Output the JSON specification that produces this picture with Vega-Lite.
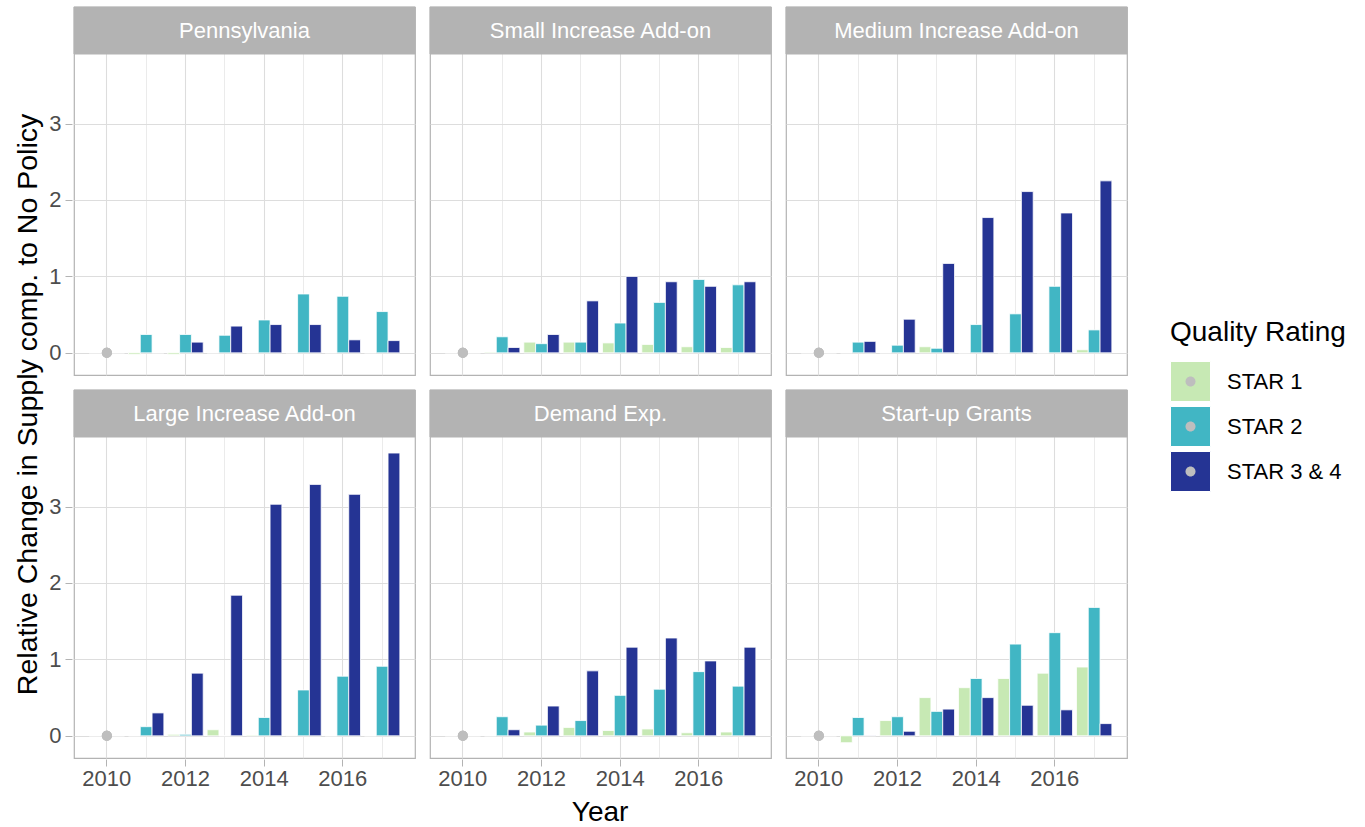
{
  "$schema": "https://vega.github.io/schema/vega-lite/v6.json",
  "background": "white",
  "padding": {"left": 14, "top": 5, "right": 5, "bottom": 2},
  "title": {"text": "Year", "orient": "bottom", "anchor": "middle", "fontSize": 28, "fontWeight": "normal", "color": "black", "font": "Liberation Sans", "offset": 10, "dx": -80},
  "data": {"values": [
    {"panel": "Pennsylvania", "year": 2010, "rating": "STAR 1", "value": 0},
    {"panel": "Pennsylvania", "year": 2010, "rating": "STAR 2", "value": 0},
    {"panel": "Pennsylvania", "year": 2010, "rating": "STAR 3 & 4", "value": 0},
    {"panel": "Pennsylvania", "year": 2011, "rating": "STAR 1", "value": -0.02},
    {"panel": "Pennsylvania", "year": 2011, "rating": "STAR 2", "value": 0.24},
    {"panel": "Pennsylvania", "year": 2011, "rating": "STAR 3 & 4", "value": 0},
    {"panel": "Pennsylvania", "year": 2012, "rating": "STAR 1", "value": -0.02},
    {"panel": "Pennsylvania", "year": 2012, "rating": "STAR 2", "value": 0.24},
    {"panel": "Pennsylvania", "year": 2012, "rating": "STAR 3 & 4", "value": 0.14},
    {"panel": "Pennsylvania", "year": 2013, "rating": "STAR 1", "value": 0},
    {"panel": "Pennsylvania", "year": 2013, "rating": "STAR 2", "value": 0.23},
    {"panel": "Pennsylvania", "year": 2013, "rating": "STAR 3 & 4", "value": 0.35},
    {"panel": "Pennsylvania", "year": 2014, "rating": "STAR 1", "value": 0},
    {"panel": "Pennsylvania", "year": 2014, "rating": "STAR 2", "value": 0.43},
    {"panel": "Pennsylvania", "year": 2014, "rating": "STAR 3 & 4", "value": 0.37},
    {"panel": "Pennsylvania", "year": 2015, "rating": "STAR 1", "value": 0},
    {"panel": "Pennsylvania", "year": 2015, "rating": "STAR 2", "value": 0.77},
    {"panel": "Pennsylvania", "year": 2015, "rating": "STAR 3 & 4", "value": 0.37},
    {"panel": "Pennsylvania", "year": 2016, "rating": "STAR 1", "value": 0},
    {"panel": "Pennsylvania", "year": 2016, "rating": "STAR 2", "value": 0.74},
    {"panel": "Pennsylvania", "year": 2016, "rating": "STAR 3 & 4", "value": 0.17},
    {"panel": "Pennsylvania", "year": 2017, "rating": "STAR 1", "value": 0},
    {"panel": "Pennsylvania", "year": 2017, "rating": "STAR 2", "value": 0.54},
    {"panel": "Pennsylvania", "year": 2017, "rating": "STAR 3 & 4", "value": 0.16},

    {"panel": "Small Increase Add-on", "year": 2010, "rating": "STAR 1", "value": 0},
    {"panel": "Small Increase Add-on", "year": 2010, "rating": "STAR 2", "value": 0},
    {"panel": "Small Increase Add-on", "year": 2010, "rating": "STAR 3 & 4", "value": 0},
    {"panel": "Small Increase Add-on", "year": 2011, "rating": "STAR 1", "value": 0.01},
    {"panel": "Small Increase Add-on", "year": 2011, "rating": "STAR 2", "value": 0.21},
    {"panel": "Small Increase Add-on", "year": 2011, "rating": "STAR 3 & 4", "value": 0.07},
    {"panel": "Small Increase Add-on", "year": 2012, "rating": "STAR 1", "value": 0.14},
    {"panel": "Small Increase Add-on", "year": 2012, "rating": "STAR 2", "value": 0.12},
    {"panel": "Small Increase Add-on", "year": 2012, "rating": "STAR 3 & 4", "value": 0.24},
    {"panel": "Small Increase Add-on", "year": 2013, "rating": "STAR 1", "value": 0.14},
    {"panel": "Small Increase Add-on", "year": 2013, "rating": "STAR 2", "value": 0.14},
    {"panel": "Small Increase Add-on", "year": 2013, "rating": "STAR 3 & 4", "value": 0.68},
    {"panel": "Small Increase Add-on", "year": 2014, "rating": "STAR 1", "value": 0.13},
    {"panel": "Small Increase Add-on", "year": 2014, "rating": "STAR 2", "value": 0.39},
    {"panel": "Small Increase Add-on", "year": 2014, "rating": "STAR 3 & 4", "value": 1.0},
    {"panel": "Small Increase Add-on", "year": 2015, "rating": "STAR 1", "value": 0.11},
    {"panel": "Small Increase Add-on", "year": 2015, "rating": "STAR 2", "value": 0.66},
    {"panel": "Small Increase Add-on", "year": 2015, "rating": "STAR 3 & 4", "value": 0.93},
    {"panel": "Small Increase Add-on", "year": 2016, "rating": "STAR 1", "value": 0.08},
    {"panel": "Small Increase Add-on", "year": 2016, "rating": "STAR 2", "value": 0.96},
    {"panel": "Small Increase Add-on", "year": 2016, "rating": "STAR 3 & 4", "value": 0.87},
    {"panel": "Small Increase Add-on", "year": 2017, "rating": "STAR 1", "value": 0.07},
    {"panel": "Small Increase Add-on", "year": 2017, "rating": "STAR 2", "value": 0.89},
    {"panel": "Small Increase Add-on", "year": 2017, "rating": "STAR 3 & 4", "value": 0.93},

    {"panel": "Medium Increase Add-on", "year": 2010, "rating": "STAR 1", "value": 0},
    {"panel": "Medium Increase Add-on", "year": 2010, "rating": "STAR 2", "value": 0},
    {"panel": "Medium Increase Add-on", "year": 2010, "rating": "STAR 3 & 4", "value": 0},
    {"panel": "Medium Increase Add-on", "year": 2011, "rating": "STAR 1", "value": 0},
    {"panel": "Medium Increase Add-on", "year": 2011, "rating": "STAR 2", "value": 0.14},
    {"panel": "Medium Increase Add-on", "year": 2011, "rating": "STAR 3 & 4", "value": 0.15},
    {"panel": "Medium Increase Add-on", "year": 2012, "rating": "STAR 1", "value": 0},
    {"panel": "Medium Increase Add-on", "year": 2012, "rating": "STAR 2", "value": 0.1},
    {"panel": "Medium Increase Add-on", "year": 2012, "rating": "STAR 3 & 4", "value": 0.44},
    {"panel": "Medium Increase Add-on", "year": 2013, "rating": "STAR 1", "value": 0.08},
    {"panel": "Medium Increase Add-on", "year": 2013, "rating": "STAR 2", "value": 0.06},
    {"panel": "Medium Increase Add-on", "year": 2013, "rating": "STAR 3 & 4", "value": 1.17},
    {"panel": "Medium Increase Add-on", "year": 2014, "rating": "STAR 1", "value": 0},
    {"panel": "Medium Increase Add-on", "year": 2014, "rating": "STAR 2", "value": 0.37},
    {"panel": "Medium Increase Add-on", "year": 2014, "rating": "STAR 3 & 4", "value": 1.77},
    {"panel": "Medium Increase Add-on", "year": 2015, "rating": "STAR 1", "value": 0},
    {"panel": "Medium Increase Add-on", "year": 2015, "rating": "STAR 2", "value": 0.51},
    {"panel": "Medium Increase Add-on", "year": 2015, "rating": "STAR 3 & 4", "value": 2.11},
    {"panel": "Medium Increase Add-on", "year": 2016, "rating": "STAR 1", "value": 0},
    {"panel": "Medium Increase Add-on", "year": 2016, "rating": "STAR 2", "value": 0.87},
    {"panel": "Medium Increase Add-on", "year": 2016, "rating": "STAR 3 & 4", "value": 1.83},
    {"panel": "Medium Increase Add-on", "year": 2017, "rating": "STAR 1", "value": 0.04},
    {"panel": "Medium Increase Add-on", "year": 2017, "rating": "STAR 2", "value": 0.3},
    {"panel": "Medium Increase Add-on", "year": 2017, "rating": "STAR 3 & 4", "value": 2.25},

    {"panel": "Large Increase Add-on", "year": 2010, "rating": "STAR 1", "value": 0},
    {"panel": "Large Increase Add-on", "year": 2010, "rating": "STAR 2", "value": 0},
    {"panel": "Large Increase Add-on", "year": 2010, "rating": "STAR 3 & 4", "value": 0},
    {"panel": "Large Increase Add-on", "year": 2011, "rating": "STAR 1", "value": 0},
    {"panel": "Large Increase Add-on", "year": 2011, "rating": "STAR 2", "value": 0.12},
    {"panel": "Large Increase Add-on", "year": 2011, "rating": "STAR 3 & 4", "value": 0.3},
    {"panel": "Large Increase Add-on", "year": 2012, "rating": "STAR 1", "value": 0.02},
    {"panel": "Large Increase Add-on", "year": 2012, "rating": "STAR 2", "value": 0.02},
    {"panel": "Large Increase Add-on", "year": 2012, "rating": "STAR 3 & 4", "value": 0.82},
    {"panel": "Large Increase Add-on", "year": 2013, "rating": "STAR 1", "value": 0.08},
    {"panel": "Large Increase Add-on", "year": 2013, "rating": "STAR 2", "value": 0},
    {"panel": "Large Increase Add-on", "year": 2013, "rating": "STAR 3 & 4", "value": 1.84},
    {"panel": "Large Increase Add-on", "year": 2014, "rating": "STAR 1", "value": 0.01},
    {"panel": "Large Increase Add-on", "year": 2014, "rating": "STAR 2", "value": 0.24},
    {"panel": "Large Increase Add-on", "year": 2014, "rating": "STAR 3 & 4", "value": 3.03},
    {"panel": "Large Increase Add-on", "year": 2015, "rating": "STAR 1", "value": 0.005},
    {"panel": "Large Increase Add-on", "year": 2015, "rating": "STAR 2", "value": 0.6},
    {"panel": "Large Increase Add-on", "year": 2015, "rating": "STAR 3 & 4", "value": 3.29},
    {"panel": "Large Increase Add-on", "year": 2016, "rating": "STAR 1", "value": 0},
    {"panel": "Large Increase Add-on", "year": 2016, "rating": "STAR 2", "value": 0.78},
    {"panel": "Large Increase Add-on", "year": 2016, "rating": "STAR 3 & 4", "value": 3.16},
    {"panel": "Large Increase Add-on", "year": 2017, "rating": "STAR 1", "value": 0},
    {"panel": "Large Increase Add-on", "year": 2017, "rating": "STAR 2", "value": 0.91},
    {"panel": "Large Increase Add-on", "year": 2017, "rating": "STAR 3 & 4", "value": 3.7},

    {"panel": "Demand Exp.", "year": 2010, "rating": "STAR 1", "value": 0},
    {"panel": "Demand Exp.", "year": 2010, "rating": "STAR 2", "value": 0},
    {"panel": "Demand Exp.", "year": 2010, "rating": "STAR 3 & 4", "value": 0},
    {"panel": "Demand Exp.", "year": 2011, "rating": "STAR 1", "value": 0},
    {"panel": "Demand Exp.", "year": 2011, "rating": "STAR 2", "value": 0.25},
    {"panel": "Demand Exp.", "year": 2011, "rating": "STAR 3 & 4", "value": 0.08},
    {"panel": "Demand Exp.", "year": 2012, "rating": "STAR 1", "value": 0.05},
    {"panel": "Demand Exp.", "year": 2012, "rating": "STAR 2", "value": 0.14},
    {"panel": "Demand Exp.", "year": 2012, "rating": "STAR 3 & 4", "value": 0.39},
    {"panel": "Demand Exp.", "year": 2013, "rating": "STAR 1", "value": 0.11},
    {"panel": "Demand Exp.", "year": 2013, "rating": "STAR 2", "value": 0.2},
    {"panel": "Demand Exp.", "year": 2013, "rating": "STAR 3 & 4", "value": 0.85},
    {"panel": "Demand Exp.", "year": 2014, "rating": "STAR 1", "value": 0.07},
    {"panel": "Demand Exp.", "year": 2014, "rating": "STAR 2", "value": 0.53},
    {"panel": "Demand Exp.", "year": 2014, "rating": "STAR 3 & 4", "value": 1.16},
    {"panel": "Demand Exp.", "year": 2015, "rating": "STAR 1", "value": 0.09},
    {"panel": "Demand Exp.", "year": 2015, "rating": "STAR 2", "value": 0.61},
    {"panel": "Demand Exp.", "year": 2015, "rating": "STAR 3 & 4", "value": 1.28},
    {"panel": "Demand Exp.", "year": 2016, "rating": "STAR 1", "value": 0.04},
    {"panel": "Demand Exp.", "year": 2016, "rating": "STAR 2", "value": 0.84},
    {"panel": "Demand Exp.", "year": 2016, "rating": "STAR 3 & 4", "value": 0.98},
    {"panel": "Demand Exp.", "year": 2017, "rating": "STAR 1", "value": 0.05},
    {"panel": "Demand Exp.", "year": 2017, "rating": "STAR 2", "value": 0.65},
    {"panel": "Demand Exp.", "year": 2017, "rating": "STAR 3 & 4", "value": 1.16},

    {"panel": "Start-up Grants", "year": 2010, "rating": "STAR 1", "value": 0},
    {"panel": "Start-up Grants", "year": 2010, "rating": "STAR 2", "value": 0},
    {"panel": "Start-up Grants", "year": 2010, "rating": "STAR 3 & 4", "value": 0},
    {"panel": "Start-up Grants", "year": 2011, "rating": "STAR 1", "value": -0.09},
    {"panel": "Start-up Grants", "year": 2011, "rating": "STAR 2", "value": 0.24},
    {"panel": "Start-up Grants", "year": 2011, "rating": "STAR 3 & 4", "value": 0.005},
    {"panel": "Start-up Grants", "year": 2012, "rating": "STAR 1", "value": 0.2},
    {"panel": "Start-up Grants", "year": 2012, "rating": "STAR 2", "value": 0.25},
    {"panel": "Start-up Grants", "year": 2012, "rating": "STAR 3 & 4", "value": 0.06},
    {"panel": "Start-up Grants", "year": 2013, "rating": "STAR 1", "value": 0.5},
    {"panel": "Start-up Grants", "year": 2013, "rating": "STAR 2", "value": 0.32},
    {"panel": "Start-up Grants", "year": 2013, "rating": "STAR 3 & 4", "value": 0.35},
    {"panel": "Start-up Grants", "year": 2014, "rating": "STAR 1", "value": 0.63},
    {"panel": "Start-up Grants", "year": 2014, "rating": "STAR 2", "value": 0.75},
    {"panel": "Start-up Grants", "year": 2014, "rating": "STAR 3 & 4", "value": 0.5},
    {"panel": "Start-up Grants", "year": 2015, "rating": "STAR 1", "value": 0.75},
    {"panel": "Start-up Grants", "year": 2015, "rating": "STAR 2", "value": 1.2},
    {"panel": "Start-up Grants", "year": 2015, "rating": "STAR 3 & 4", "value": 0.4},
    {"panel": "Start-up Grants", "year": 2016, "rating": "STAR 1", "value": 0.82},
    {"panel": "Start-up Grants", "year": 2016, "rating": "STAR 2", "value": 1.35},
    {"panel": "Start-up Grants", "year": 2016, "rating": "STAR 3 & 4", "value": 0.34},
    {"panel": "Start-up Grants", "year": 2017, "rating": "STAR 1", "value": 0.9},
    {"panel": "Start-up Grants", "year": 2017, "rating": "STAR 2", "value": 1.68},
    {"panel": "Start-up Grants", "year": 2017, "rating": "STAR 3 & 4", "value": 0.16}
  ]},
  "vconcat": [{
    "title": {"text": "Relative Change in Supply comp. to No Policy", "orient": "left", "anchor": "middle", "fontSize": 28.5, "fontWeight": "normal", "color": "black", "font": "Liberation Sans", "offset": 6, "dx": -7},
    "facet": {
      "field": "panel", "type": "nominal",
      "header": {"labels": false, "labelExpr": "''", "labelFontSize": 0, "labelPadding": 0, "title": null},
      "sort": ["Pennsylvania", "Small Increase Add-on", "Medium Increase Add-on", "Large Increase Add-on", "Demand Exp.", "Start-up Grants"]
    },
    "columns": 3,
    "spacing": {"row": 12, "column": 11},
    "spec": {
      "width": 341,
      "height": 368,
      "layer": [
        {
          "mark": {"type": "bar", "stroke": "white", "strokeWidth": 0.8},
          "encoding": {
            "x": {"field": "year", "type": "ordinal",
              "scale": {"paddingInner": 0.1, "paddingOuter": 0.385},
              "axis": {"title": null, "values": [2010, 2011, 2012, 2013, 2014, 2015, 2016, 2017],
                "labelExpr": "datum.value % 2 == 0 ? datum.label : ''",
                "labelAngle": 0, "domain": false, "labelFontSize": 22, "labelColor": "#4D4D4D", "labelFont": "Liberation Sans", "labelPadding": 2,
                "grid": true, "bandPosition": 0.5,
                "tickSize": 7, "tickColor": {"condition": {"test": "datum.value % 2 == 0", "value": "#B3B3B3"}, "value": "transparent"},
                "gridColor": "#DDDDDD", "gridWidth": {"condition": {"test": "datum.value % 2 == 0", "value": 1.1}, "value": 0.6}}},
            "xOffset": {"field": "rating"},
            "y": {"field": "value", "type": "quantitative",
              "scale": {"domain": [-0.29, 4.525], "nice": false, "zero": false},
              "axis": {"title": null, "values": [0, 0.5, 1, 1.5, 2, 2.5, 3, 3.5], "format": "d",
                "labelExpr": "datum.value % 1 == 0 ? datum.label : ''",
                "domain": false, "labelFontSize": 22, "labelColor": "#4D4D4D", "labelFont": "Liberation Sans", "labelPadding": 4,
                "tickSize": 7, "tickColor": {"condition": {"test": "datum.value % 1 == 0", "value": "#B3B3B3"}, "value": "transparent"},
                "gridColor": "#DDDDDD", "gridWidth": {"condition": {"test": "datum.value % 1 == 0", "value": 1.1}, "value": 0.6}}},
            "y2": {"datum": 0},
            "color": {"field": "rating", "type": "nominal",
              "scale": {"range": ["#C7E9B4", "#41B6C4", "#253494"]},
              "legend": {"title": "Quality Rating", "orient": "none", "legendX": 1096, "legendY": 312,
                "titleFontSize": 28, "titleFontWeight": "normal", "titleColor": "black", "titleFont": "Liberation Sans", "titlePadding": 14,
                "labelFontSize": 22, "labelColor": "black", "labelFont": "Liberation Sans", "labelOffset": 16,
                "symbolType": "square", "symbolSize": 1600, "symbolStrokeColor": "white", "symbolStrokeWidth": 1, "symbolOpacity": 1, "rowPadding": 0}}
          }
        },
        {
          "transform": [{"filter": "datum.year == 2010"}],
          "mark": {"type": "point", "filled": true, "color": "#BEBEBE", "opacity": 1, "size": 1600, "strokeWidth": 0},
          "encoding": {
            "x": {"field": "year", "type": "ordinal"},
            "y": {"field": "value", "type": "quantitative"},
            "shape": {"field": "rating", "type": "nominal",
              "scale": {"domain": ["STAR 1", "STAR 2", "STAR 3 & 4"], "range": ["M-1,-1M1,1M-0.25,0A0.25,0.25 0 1,0 0.25,0A0.25,0.25 0 1,0 -0.25,0Z", "M-1,-1M1,1M-0.25,0A0.25,0.25 0 1,0 0.25,0A0.25,0.25 0 1,0 -0.25,0Z", "M-1,-1M1,1M-0.25,0A0.25,0.25 0 1,0 0.25,0A0.25,0.25 0 1,0 -0.25,0Z"]},
              "legend": {"title": "Quality Rating", "orient": "none", "legendX": 1096, "legendY": 312, "zindex": 2,
                "titleFontSize": 28, "titleFontWeight": "normal", "titleColor": "transparent", "titleFont": "Liberation Sans", "titlePadding": 14,
                "labelFontSize": 22, "labelColor": "transparent", "labelFont": "Liberation Sans", "labelOffset": 16,
                "symbolSize": 1600, "symbolFillColor": "#BEBEBE", "symbolStrokeColor": "transparent", "symbolStrokeWidth": 1, "symbolOpacity": 1, "rowPadding": 0}}
          }
        },
        {
          "transform": [{"filter": "datum.year == 2010 && datum.rating == 'STAR 1'"}],
          "mark": {"type": "rect", "color": "#B3B3B3", "stroke": "#B3B3B3", "strokeWidth": 1},
          "encoding": {"y": {"datum": 3.91}, "y2": {"datum": 4.525}}
        },
        {
          "transform": [{"filter": "datum.year == 2010 && datum.rating == 'STAR 1'"}],
          "mark": {"type": "text", "color": "white", "fontSize": 22, "font": "Liberation Sans", "baseline": "middle", "align": "center"},
          "encoding": {"y": {"datum": 4.2175}, "text": {"field": "panel"}}
        }
      ]
    }
  }],
  "config": {
    "view": {"stroke": "#B3B3B3", "strokeWidth": 1.2},
    "header": {"labels": false, "labelFontSize": 0, "labelPadding": 0, "labelExpr": "''"},
    "headerFacet": {"labels": false, "labelFontSize": 0, "labelPadding": 0, "labelExpr": "''"},
    "font": "Liberation Sans"
  }
}
